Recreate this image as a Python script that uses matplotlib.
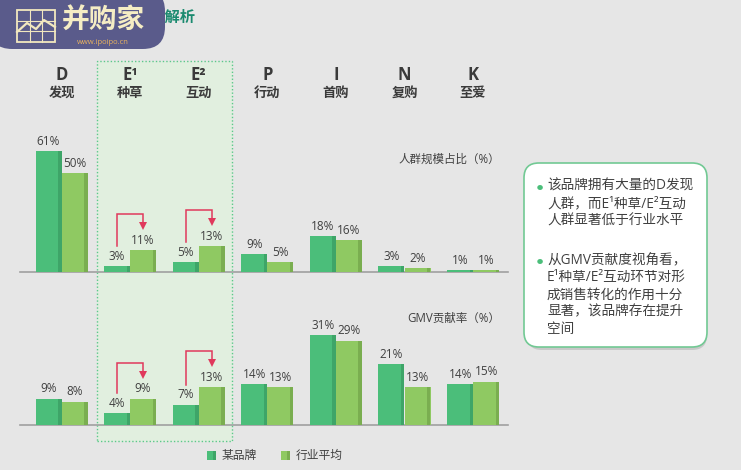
import matplotlib.pyplot as plt
from matplotlib.patches import FancyBboxPatch, Rectangle
import numpy as np

plt.rcParams['font.family'] = ['Open Sans', 'Noto Sans CJK SC', 'DejaVu Sans']

letters = ["D", "E¹", "E²", "P", "I", "N", "K"]
stages = ["发现", "种草", "互动", "行动", "首购", "复购", "至爱"]
crowdBrand = [61, 3, 5, 9, 18, 3, 1]
crowdIndustry = [50, 11, 13, 5, 16, 2, 1]
gmvBrand = [9, 4, 7, 14, 31, 21, 14]
gmvIndustry = [8, 9, 13, 13, 29, 13, 15]
seriesNames = ["某品牌", "行业平均"]
notes = ["该品牌拥有大量的D发现\n人群，而E¹种草/E²互动\n人群显著低于行业水平",
         "从GMV贡献度视角看，\nE¹种草/E²互动环节对形\n成销售转化的作用十分\n显著，该品牌存在提升\n空间"]

W, H = 741, 470
bg = "#e6e6e6"
cBrand, cBrandSide = "#4bbe7a", "#3ea568"
cInd, cIndSide = "#8fc962", "#7aae50"
arrowColor = "#e0395c"

fig = plt.figure(figsize=(W / 100, H / 100), dpi=100, facecolor=bg)

def fx(px):
    return px / W

def fy(py):
    return 1 - py / H

# highlight box for E1/E2 (behind the bars)
fig.patches.append(Rectangle((fx(97), fy(441)), fx(232 - 97), (441 - 61) / H,
                             transform=fig.transFigure, facecolor="#e1efdf",
                             edgecolor="#5cc98a", linestyle=(0, (1, 1.5)), lw=1.0, zorder=-2))

step = 68.6
x0px = 61.5
xl = ((20 - x0px) / step, (508 - x0px) / step)
bw = 26 / step
side = 3.5 / step
x = np.arange(len(letters))

def draw_panel(top_base, scale, ymax, brand, ind, label, label_y):
    height_px = ymax * scale
    ax = fig.add_axes([fx(20), fy(top_base), fx(488), height_px / H])
    ax.set_xlim(*xl)
    ax.set_ylim(0, ymax)
    ax.patch.set_alpha(0)
    for s in ax.spines.values():
        s.set_visible(False)
    ax.axhline(0, color="#a0a0a0", lw=1.2, clip_on=False)
    ax.set_xticks([])
    ax.set_yticks([])
    ax.bar(x - bw / 2, brand, bw, color=cBrand, zorder=2)
    ax.bar(x - side / 2, brand, side, color=cBrandSide, zorder=3)
    ax.bar(x + bw / 2, ind, bw, color=cInd, zorder=2)
    ax.bar(x + bw - side / 2, ind, side, color=cIndSide, zorder=3)
    for i in range(len(x)):
        ax.annotate(f"{brand[i]}%", (x[i] - bw / 2, brand[i]), xytext=(0, 2.5),
                    textcoords="offset points", ha="center", va="bottom",
                    fontsize=8.5, color="#404040")
        ax.annotate(f"{ind[i]}%", (x[i] + bw / 2, ind[i]), xytext=(0, 2.5),
                    textcoords="offset points", ha="center", va="bottom",
                    fontsize=8.5, color="#404040")
    # red arrows on E1 / E2
    for i in (1, 2):
        ys = brand[i] + 20 / scale
        yt = ind[i] + 36 / scale
        ye = ind[i] + 21 / scale
        xa, xb = x[i] - bw / 2, x[i] + bw / 2
        ax.plot([xa, xa, xb, xb], [ys, yt, yt, ye + 3 / scale], color=arrowColor, lw=1.1,
                solid_joinstyle="miter", zorder=4)
        ax.plot([xb], [ye + 3 / scale], marker="v", ms=6, color=arrowColor,
                markeredgewidth=0, zorder=4)
    fig.text(fx(500), fy(label_y), label, ha="right", va="center", fontsize=8.3, color="#404040")
    return ax

draw_panel(272, 1.98, 68, crowdBrand, crowdIndustry, "人群规模占比（%）", 159)
draw_panel(425, 2.9, 35, gmvBrand, gmvIndustry, "GMV贡献率（%）", 318)

# column headers
for i in range(len(letters)):
    cx = fx(x0px + step * i)
    fig.text(cx, fy(75), letters[i], ha="center", va="center", fontsize=12,
             fontweight="bold", color="#3a3a3a")
    fig.text(cx, fy(93), stages[i], ha="center", va="center", fontsize=9.5,
             fontweight="bold", color="#3a3a3a")

# legend
fig.patches.append(Rectangle((fx(207), fy(460)), fx(9), 9 / H, transform=fig.transFigure,
                             facecolor=cBrand, edgecolor="none"))
fig.patches.append(Rectangle((fx(213), fy(460)), fx(3), 9 / H, transform=fig.transFigure,
                             facecolor=cBrandSide, edgecolor="none"))
fig.text(fx(222), fy(455), seriesNames[0], va="center", fontsize=8.5, color="#404040")
fig.patches.append(Rectangle((fx(281), fy(460)), fx(9), 9 / H, transform=fig.transFigure,
                             facecolor=cInd, edgecolor="none"))
fig.patches.append(Rectangle((fx(287), fy(460)), fx(3), 9 / H, transform=fig.transFigure,
                             facecolor=cIndSide, edgecolor="none"))
fig.text(fx(296), fy(455), seriesNames[1], va="center", fontsize=8.5, color="#404040")

# note box
fig.patches.append(FancyBboxPatch((fx(527), fy(350)), fx(707 - 527), (350 - 166) / H,
                                  boxstyle="round,pad=0,rounding_size=0.02",
                                  transform=fig.transFigure, facecolor="#c8c8c8",
                                  edgecolor="none", mutation_aspect=W / H))
fig.patches.append(FancyBboxPatch((fx(524), fy(347)), fx(707 - 524), (347 - 163) / H,
                                  boxstyle="round,pad=0,rounding_size=0.02",
                                  transform=fig.transFigure, facecolor="white",
                                  edgecolor="#72c994", lw=1.2, mutation_aspect=W / H))
for note, ytop in zip(notes, (188, 262)):
    fig.text(fx(540), fy(ytop), "●", ha="center", va="center", fontsize=4.5, color="#4bbe7a")
    fig.text(fx(547), fy(ytop - 9), note, ha="left", va="top", fontsize=9.8,
             color="#404040", linespacing=1.2)

# title (mostly hidden behind the logo)
fig.text(fx(196), fy(18), "图：某品牌各环节指标解析", ha="right", va="center", fontsize=11,
         fontweight="bold", color="#1b8a6f")

# logo
fig.patches.append(FancyBboxPatch((fx(-10), fy(49)), fx(175), 60 / H,
                                  boxstyle="round,pad=0,rounding_size=0.03",
                                  transform=fig.transFigure, facecolor="#5a5b8b",
                                  edgecolor="none", mutation_aspect=W / H, zorder=5))
fig.patches.append(Rectangle((fx(17), fy(42)), fx(38), 32 / H, transform=fig.transFigure,
                             facecolor="none", edgecolor="#f2e8bf", lw=1.3, zorder=6))
for gx in (29.7, 42.3):
    fig.lines.append(plt.Line2D([fx(gx), fx(gx)], [fy(42), fy(10)], transform=fig.transFigure,
                                color="#f2e8bf", lw=0.8, zorder=6))
for gy in (20.7, 31.3):
    fig.lines.append(plt.Line2D([fx(17), fx(55)], [fy(gy), fy(gy)], transform=fig.transFigure,
                                color="#f2e8bf", lw=0.8, zorder=6))
fig.lines.append(plt.Line2D([fx(17), fx(27), fx(36), fx(44), fx(55)],
                            [fy(32), fy(23), fy(29), fy(20), fy(27)],
                            transform=fig.transFigure, color="#f2e8bf", lw=1.6, zorder=7))
fig.text(fx(103), fy(21), "并购家", ha="center", va="center", fontsize=20,
         fontweight="bold", color="#f5edc4", zorder=7)
fig.text(fx(103), fy(43), "www.ipoipo.cn", ha="center", va="center", fontsize=5.5,
         color="#e9b25f", zorder=7)

fig.savefig("out.png", dpi=100, facecolor=bg)
